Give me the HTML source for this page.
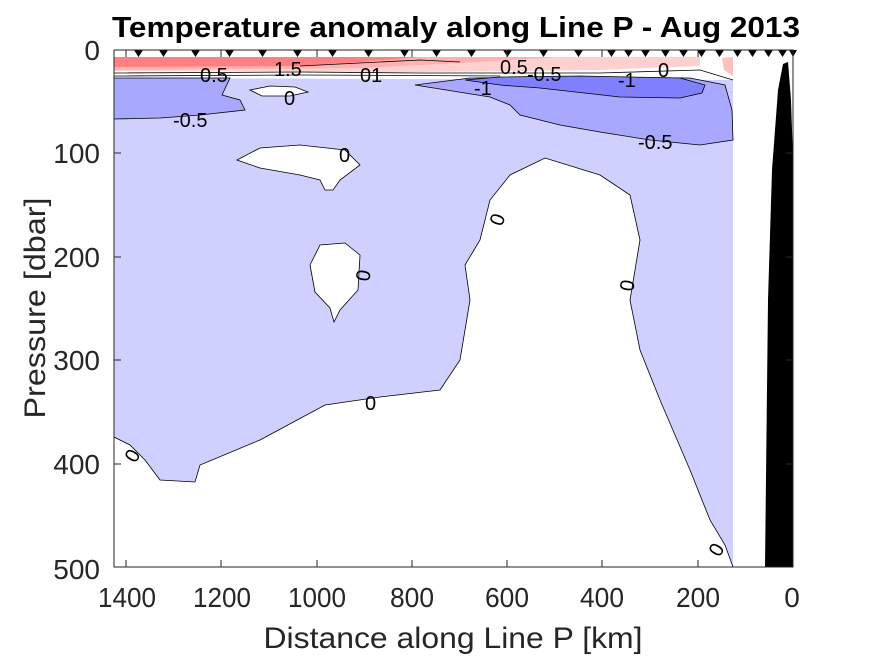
<!DOCTYPE html>
<html><head><meta charset="utf-8"><style>body{margin:0;background:#fff}svg{display:block}</style></head>
<body>
<svg width="875" height="656" viewBox="0 0 875 656" xmlns="http://www.w3.org/2000/svg" font-family="Liberation Sans, sans-serif">
<rect width="875" height="656" fill="#fff"/>
<rect x="114" y="76" width="619" height="491" fill="#d0d0ff"/>
<polygon points="114,57 700,57 700,66 600,70 420,72 114,72" fill="#ffd0d0"/>
<polygon points="114,57 560,57 460,63 360,68 114,70" fill="#ffb0b0"/>
<polygon points="114,57 420,57 360,62 300,66 114,67" fill="#ff8080"/>
<polygon points="700,57 733,57 733,80 700,72" fill="#fff"/>
<polygon points="114,71 733,73 733,80 114,78" fill="#fff"/>
<polygon points="722,58 733,57 733,76 724,70" fill="#ffc0c0"/>
<polygon points="114,78 230,78 222,95 240,100 245,110 200,115 160,118 114,119" fill="#a8a8ff" stroke="#000" stroke-width="0.8"/>
<polygon points="415,85 470,78 560,77 690,78 725,85 732,110 733,140 700,145 650,140 600,132 560,125 520,115 510,105 490,97" fill="#a8a8ff" stroke="#000" stroke-width="0.8"/>
<polygon points="465,80 500,77 580,76 680,78 705,85 702,93 680,98 620,97 540,88 500,85" fill="#8080ff" stroke="#000" stroke-width="0.8"/>
<polygon points="250,90 270,86 295,87 308,92 290,96 262,96" fill="#fff" stroke="#000" stroke-width="0.8"/>
<polygon points="237,160 260,148 300,145 345,150 360,165 340,180 333,190 325,190 320,180 300,175 260,168" fill="#fff" stroke="#000" stroke-width="0.8"/>
<polygon points="310,265 320,245 345,243 360,255 358,290 340,310 334,322 330,308 315,292" fill="#fff" stroke="#000" stroke-width="0.8"/>
<polygon points="114,437 130,445 145,460 160,480 195,482 200,465 260,440 325,405 380,397 440,390 460,360 470,300 465,265 480,240 490,200 510,175 545,158 600,175 630,195 640,240 630,300 640,350 660,400 690,470 710,520 725,545 733,567 114,567" fill="#fff" stroke="#000" stroke-width="0.8"/>
<polyline points="114,73 300,72 420,73 600,73 700,70 733,80" fill="none" stroke="#000" stroke-width="0.8"/>
<polyline points="114,76 300,75 500,76" fill="none" stroke="#000" stroke-width="0.8"/>
<polyline points="300,66 420,60 460,62" fill="none" stroke="#000" stroke-width="0.8"/>
<g font-size="20" fill="#000">
<text x="200" y="82">0.5</text><text x="274" y="76">1.5</text><text x="360" y="82">01</text>
<text x="284" y="105">0</text><text x="173" y="127">-0.5</text>
<text x="500" y="74">0.5</text><text x="527" y="81">-0.5</text><text x="658" y="77">0</text>
<text x="474" y="95">-1</text><text x="618" y="87">-1</text><text x="638" y="149">-0.5</text>
<text x="339" y="162">0</text><text x="492" y="227" transform="rotate(-70 497 220)">0</text>
<text x="358" y="283" transform="rotate(-80 363 276)">0</text><text x="622" y="293" transform="rotate(-80 627 286)">0</text>
<text x="365" y="410">0</text><text x="127" y="463" transform="rotate(-60 132 456)">0</text>
<text x="711" y="557" transform="rotate(-60 716 550)">0</text>
</g>
<polygon points="765,567 768,300 772,170 778,90 783,64 788,62 791,100 793,160 793,567" fill="#000"/>
<g fill="#000">
<path d="M134,50h9l-4.5,7z M159,50h9l-4.5,7z M191,50h9l-4.5,7z M225,50h9l-4.5,7z M258,50h9l-4.5,7z M293,50h9l-4.5,7z M328,50h9l-4.5,7z M364,50h9l-4.5,7z M400,50h9l-4.5,7z M432,50h9l-4.5,7z M467,50h9l-4.5,7z M503,50h9l-4.5,7z M539,50h9l-4.5,7z M574,50h9l-4.5,7z M607,50h9l-4.5,7z M624,50h9l-4.5,7z M641,50h9l-4.5,7z M661,50h9l-4.5,7z M679,50h9l-4.5,7z M697,50h9l-4.5,7z M715,50h9l-4.5,7z M733,50h9l-4.5,7z M748,50h9l-4.5,7z M764,50h9l-4.5,7z M778,50h9l-4.5,7z M789,50h8l-4,7z"/>
</g>
<path d="M114,50V567H793V50H114" fill="none" stroke="#262626" stroke-width="1"/>
<g stroke="#262626">
<path d="M126,567v-7M221,567v-7M317,567v-7M412,567v-7M507,567v-7M602,567v-7M698,567v-7M126,50v7M221,50v7M317,50v7M412,50v7M507,50v7M602,50v7M698,50v7"/>
<path d="M114,153h7M114,257h7M114,360h7M114,464h7M793,153h-7M793,257h-7M793,360h-7M793,464h-7"/>
</g>
<g font-size="28" fill="#262626" text-anchor="middle">
<text x="127" y="607" textLength="58" lengthAdjust="spacingAndGlyphs">1400</text><text x="222" y="607" textLength="58" lengthAdjust="spacingAndGlyphs">1200</text><text x="317" y="607" textLength="58" lengthAdjust="spacingAndGlyphs">1000</text><text x="412" y="607" textLength="44" lengthAdjust="spacingAndGlyphs">800</text>
<text x="507" y="607" textLength="44" lengthAdjust="spacingAndGlyphs">600</text><text x="602" y="607" textLength="44" lengthAdjust="spacingAndGlyphs">400</text><text x="698" y="607" textLength="44" lengthAdjust="spacingAndGlyphs">200</text><text x="792" y="607">0</text>
</g>
<g font-size="28" fill="#262626" text-anchor="end">
<text x="100" y="60">0</text><text x="100" y="163">100</text><text x="100" y="267">200</text><text x="100" y="370">300</text>
<text x="100" y="474">400</text><text x="100" y="579">500</text>
</g>
<text x="453" y="648" font-size="30" fill="#262626" text-anchor="middle" textLength="379" lengthAdjust="spacingAndGlyphs">Distance along Line P [km]</text>
<text transform="translate(45,308) rotate(-90)" font-size="30" fill="#262626" text-anchor="middle" textLength="221" lengthAdjust="spacingAndGlyphs">Pressure [dbar]</text>
<text x="456" y="37" font-size="29" font-weight="bold" fill="#000" text-anchor="middle" textLength="688" lengthAdjust="spacingAndGlyphs">Temperature anomaly along Line P - Aug 2013</text>
</svg>
</body></html>
